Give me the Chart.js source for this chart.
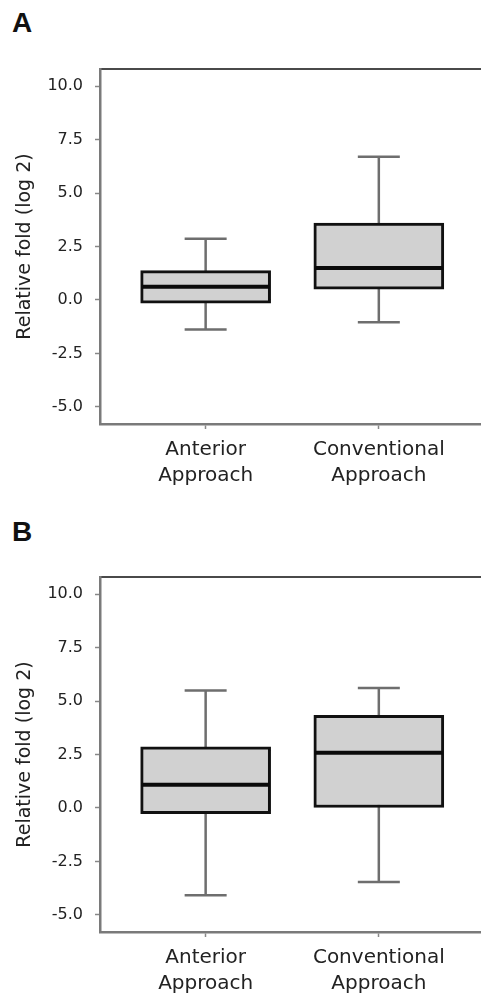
<!DOCTYPE html>
<html>
<head>
<meta charset="utf-8">
<script src="https://cdn.jsdelivr.net/npm/chart.js@4/dist/chart.umd.min.js"></script>
<style>
  html, body { margin: 0; padding: 0; background: #fff; }
  body { width: 481px; height: 995px; overflow: hidden; position: relative; }
  .panel { position: absolute; left: 0; width: 481px; height: 490px; }
  .tag { position: absolute; left: 12px; font: bold 28px "Liberation Sans", Arial, sans-serif; line-height: 28px; color: #111; }
</style>
</head>
<body>
<div class="tag" style="top:9px">A</div>
<div class="panel" style="top:0"><canvas id="chartA" width="481" height="490"></canvas></div>
<div class="tag" style="top:518px">B</div>
<div class="panel" style="top:508px"><canvas id="chartB" width="481" height="490"></canvas></div>

<script>
/* data */
const categories = [["Anterior", "Approach"], ["Conventional", "Approach"]];
const yTicks = [-5, -2.5, 0, 2.5, 5, 7.5, 10];

// panel A
const aMin = [-1.38, -1.04];
const aQ1 = [-0.15, 0.5];
const aMedian = [0.62, 1.5];
const aQ3 = [1.37, 3.6];
const aMax = [2.86, 6.7];

// panel B
const bMin = [-4.08, -3.46];
const bQ1 = [-0.27, 0.0];
const bMedian = [1.08, 2.58];
const bQ3 = [2.86, 4.33];
const bMax = [5.49, 5.61];

const FONT = "DejaVu Sans";

/* whiskers + medians drawn via the chart scales */
function boxExtras(min, median, max) {
  return {
    id: "boxExtras",
    beforeDatasetsDraw(chart) {
      const { ctx, scales } = chart;
      ctx.save();
      ctx.strokeStyle = "#6e6e6e";
      ctx.lineWidth = 2.5;
      min.forEach((v, i) => {
        const x = scales.x.getPixelForValue(i + 1);
        const yLo = scales.y.getPixelForValue(min[i]);
        const yHi = scales.y.getPixelForValue(max[i]);
        ctx.beginPath();
        ctx.moveTo(x, yLo);
        ctx.lineTo(x, yHi);
        ctx.moveTo(x - 21, yLo);
        ctx.lineTo(x + 21, yLo);
        ctx.moveTo(x - 21, yHi);
        ctx.lineTo(x + 21, yHi);
        ctx.stroke();
      });
      ctx.restore();
    },
    afterDatasetsDraw(chart) {
      const { ctx, scales } = chart;
      ctx.save();
      ctx.strokeStyle = "#0a0a0a";
      ctx.lineWidth = 4;
      median.forEach((v, i) => {
        const x = scales.x.getPixelForValue(i + 1);
        const y = scales.y.getPixelForValue(v);
        ctx.beginPath();
        ctx.moveTo(x - 64, y);
        ctx.lineTo(x + 64, y);
        ctx.stroke();
      });
      ctx.restore();
    },
  };
}

function makePanel(id, q1, q3, min, median, max) {
  new Chart(document.getElementById(id), {
    type: "bar",
    data: {
      datasets: [
        {
          data: categories.map((c, i) => ({ x: i + 1, y: [q1[i], q3[i]] })),
          backgroundColor: "#d1d1d1",
          borderColor: "#111",
          borderWidth: 3,
          borderSkipped: false,
          barThickness: 130,
          xAxisID: "x",
          yAxisID: "y",
        },
      ],
    },
    options: {
      responsive: false,
      animation: false,
      layout: { padding: { top: 69, left: 0, right: 0, bottom: 0 } },
      plugins: { legend: { display: false }, tooltip: { enabled: false } },
      scales: {
        x: {
          type: "linear",
          position: "bottom",
          min: 0.39,
          max: 2.59,
          offset: false,
          afterBuildTicks: (s) => { s.ticks = categories.map((c, i) => ({ value: i + 1 })); },
          afterFit: (s) => { s.height = 66; },
          ticks: {
            callback: (v) => categories[Math.round(v) - 1],
            font: { family: FONT, size: 20, lineHeight: 1.3 },
            color: "#222",
            padding: 8,
            maxRotation: 0,
            autoSkip: false,
          },
          grid: { offset: false, drawOnChartArea: false, tickLength: 5, color: "#888", tickWidth: 1.5 },
          border: { color: "#7a7a7a", width: 2.5 },
        },
        xTop: {
          type: "linear",
          position: "top",
          min: 0.39,
          max: 2.59,
          afterFit: (s) => { s.height = 0; },
          ticks: { display: false },
          grid: { display: false, drawTicks: false },
          border: { display: true, color: "#4a4a4a", width: 2 },
        },
        y: {
          min: -5.8,
          max: 10.8,
          afterBuildTicks: (s) => { s.ticks = yTicks.map((v) => ({ value: v })); },
          afterFit: (s) => { s.width = 100; },
          ticks: {
            callback: (v) => Number(v).toFixed(1),
            font: { family: FONT, size: 16 },
            color: "#222",
            padding: 12,
          },
          grid: { drawOnChartArea: false, tickLength: 5, color: "#888", tickWidth: 1.5 },
          border: { color: "#7a7a7a", width: 2.5 },
          title: {
            display: true,
            text: "Relative fold (log 2)",
            font: { family: FONT, size: 19, lineHeight: 1.2 },
            color: "#222",
            padding: { top: 14, bottom: 0 },
          },
        },
      },
    },
    plugins: [boxExtras(min, median, max)],
  });
}

makePanel("chartA", aQ1, aQ3, aMin, aMedian, aMax);
makePanel("chartB", bQ1, bQ3, bMin, bMedian, bMax);
</script>
</body>
</html>
